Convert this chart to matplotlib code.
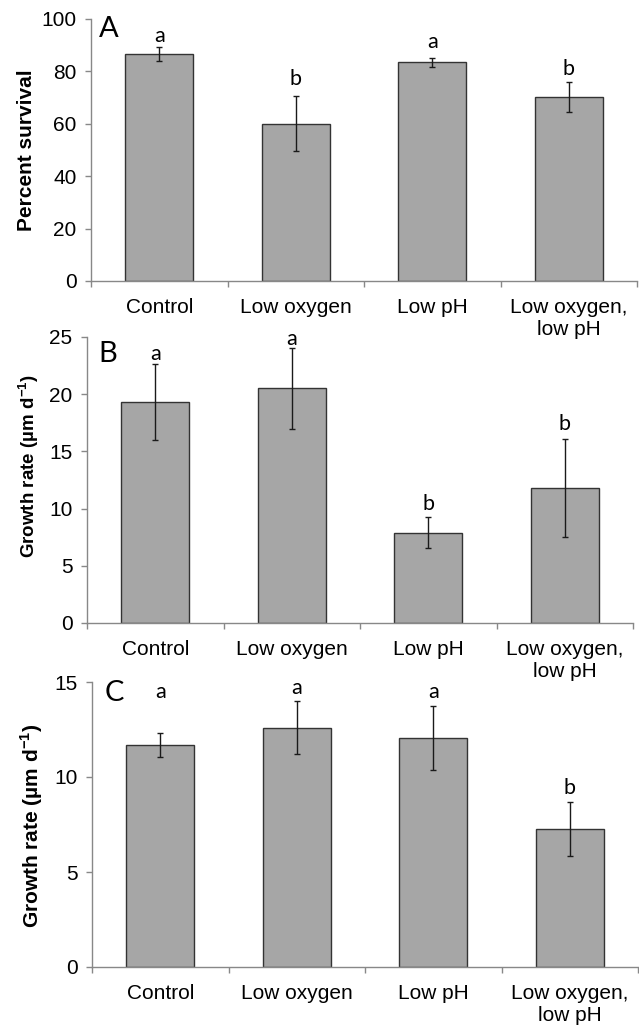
import matplotlib.pyplot as plt
import numpy as np

plt.rcParams['font.family'] = ['Liberation Sans', 'DejaVu Sans']
plt.rcParams['mathtext.fontset'] = 'custom'
plt.rcParams['mathtext.rm'] = 'Liberation Sans'
plt.rcParams['mathtext.bf'] = 'Liberation Sans:bold'

categories = ["Control", "Low oxygen", "Low pH", "Low oxygen,\nlow pH"]

# Panel A - survival
survival = [86.8, 60.1, 83.5, 70.1]
survival_err = [2.7, 10.5, 1.8, 5.7]
survival_letters = ["a", "b", "a", "b"]
survival_letter_y = [91.3, 74.8, 88.8, 78.6]

# Panel B - growth rate
growth_b = [19.3, 20.5, 7.9, 11.8]
growth_b_err = [3.3, 3.5, 1.35, 4.3]
growth_b_letters = ["a", "a", "b", "b"]
growth_b_letter_y = [22.96, 24.27, 9.85, 16.84]

# Panel C - growth rate
growth_c = [11.7, 12.6, 12.05, 7.25]
growth_c_err = [0.64, 1.4, 1.7, 1.43]
growth_c_letters = ["a", "a", "a", "b"]
growth_c_letter_y = [14.18, 14.39, 14.18, 9.13]

growth_label = r'Growth rate (µm d$^{\mathbf{-1}}$)'

fig = plt.figure(figsize=(6.39, 10.29), dpi=100)
W, H = 639, 1029


def panel(left, bottom_px, top_px, vals, errs, letters, letter_y, ymax, step,
          tag, tag_xy, ylabel, ylabel_size, ylabel_xy):
    width = 546
    ax = fig.add_axes([left / W, (H - bottom_px) / H, width / W, (bottom_px - top_px) / H])
    ax.patch.set_alpha(0)
    x = np.arange(len(categories))
    ax.bar(x, vals, width=0.5, color="#a6a6a6", edgecolor="#333333", linewidth=1, zorder=2)
    ax.errorbar(x, vals, yerr=errs, fmt="none", ecolor="#1a1a1a",
                elinewidth=1, capsize=2.5, capthick=1, zorder=3)
    for xi, let, ly in zip(x, letters, letter_y):
        ax.text(xi, ly, let, ha="center", va="baseline", fontsize=15.5, family="Lato")
    ax.text(tag_xy[0], tag_xy[1], tag, ha="center", va="baseline", fontsize=21, family="Lato")

    ax.set_xlim(-0.5, 3.5)
    ax.set_ylim(0, ymax)
    ax.set_yticks(np.arange(0, ymax + 0.1, step))
    ax.set_xticks(np.arange(-0.5, 4, 1))
    ax.set_xticklabels([])
    ax.set_xticks(x, minor=True)
    ax.set_xticklabels(categories, minor=True, fontsize=15)
    ax.tick_params(axis="x", which="minor", length=0, pad=12)
    ax.tick_params(axis="both", which="major", length=4.5, width=1, color="#888888",
                   direction="out", labelsize=15)
    ax.tick_params(axis="y", pad=6)
    for s in ["top", "right"]:
        ax.spines[s].set_visible(False)
    for s in ["left", "bottom"]:
        ax.spines[s].set_color("#888888")
        ax.spines[s].set_linewidth(1)

    ax.set_ylabel(ylabel, fontsize=ylabel_size, fontweight="bold")
    ax.yaxis.set_label_coords(*ylabel_xy)
    return ax


panel(91, 281, 19, survival, survival_err, survival_letters, survival_letter_y,
      100, 20, "A", (-0.368, 93), "Percent survival", 15, (-0.10, 0.5))
panel(87, 623, 337, growth_b, growth_b_err, growth_b_letters, growth_b_letter_y,
      25, 5, "B", (-0.346, 22.8), growth_label, 13.5, (-0.084, 0.55))
panel(92, 967, 682, growth_c, growth_c_err, growth_c_letters, growth_c_letter_y,
      15, 5, "C", (-0.339, 14.0), growth_label, 15, (-0.086, 0.495))

fig.savefig("out.png", dpi=100)
